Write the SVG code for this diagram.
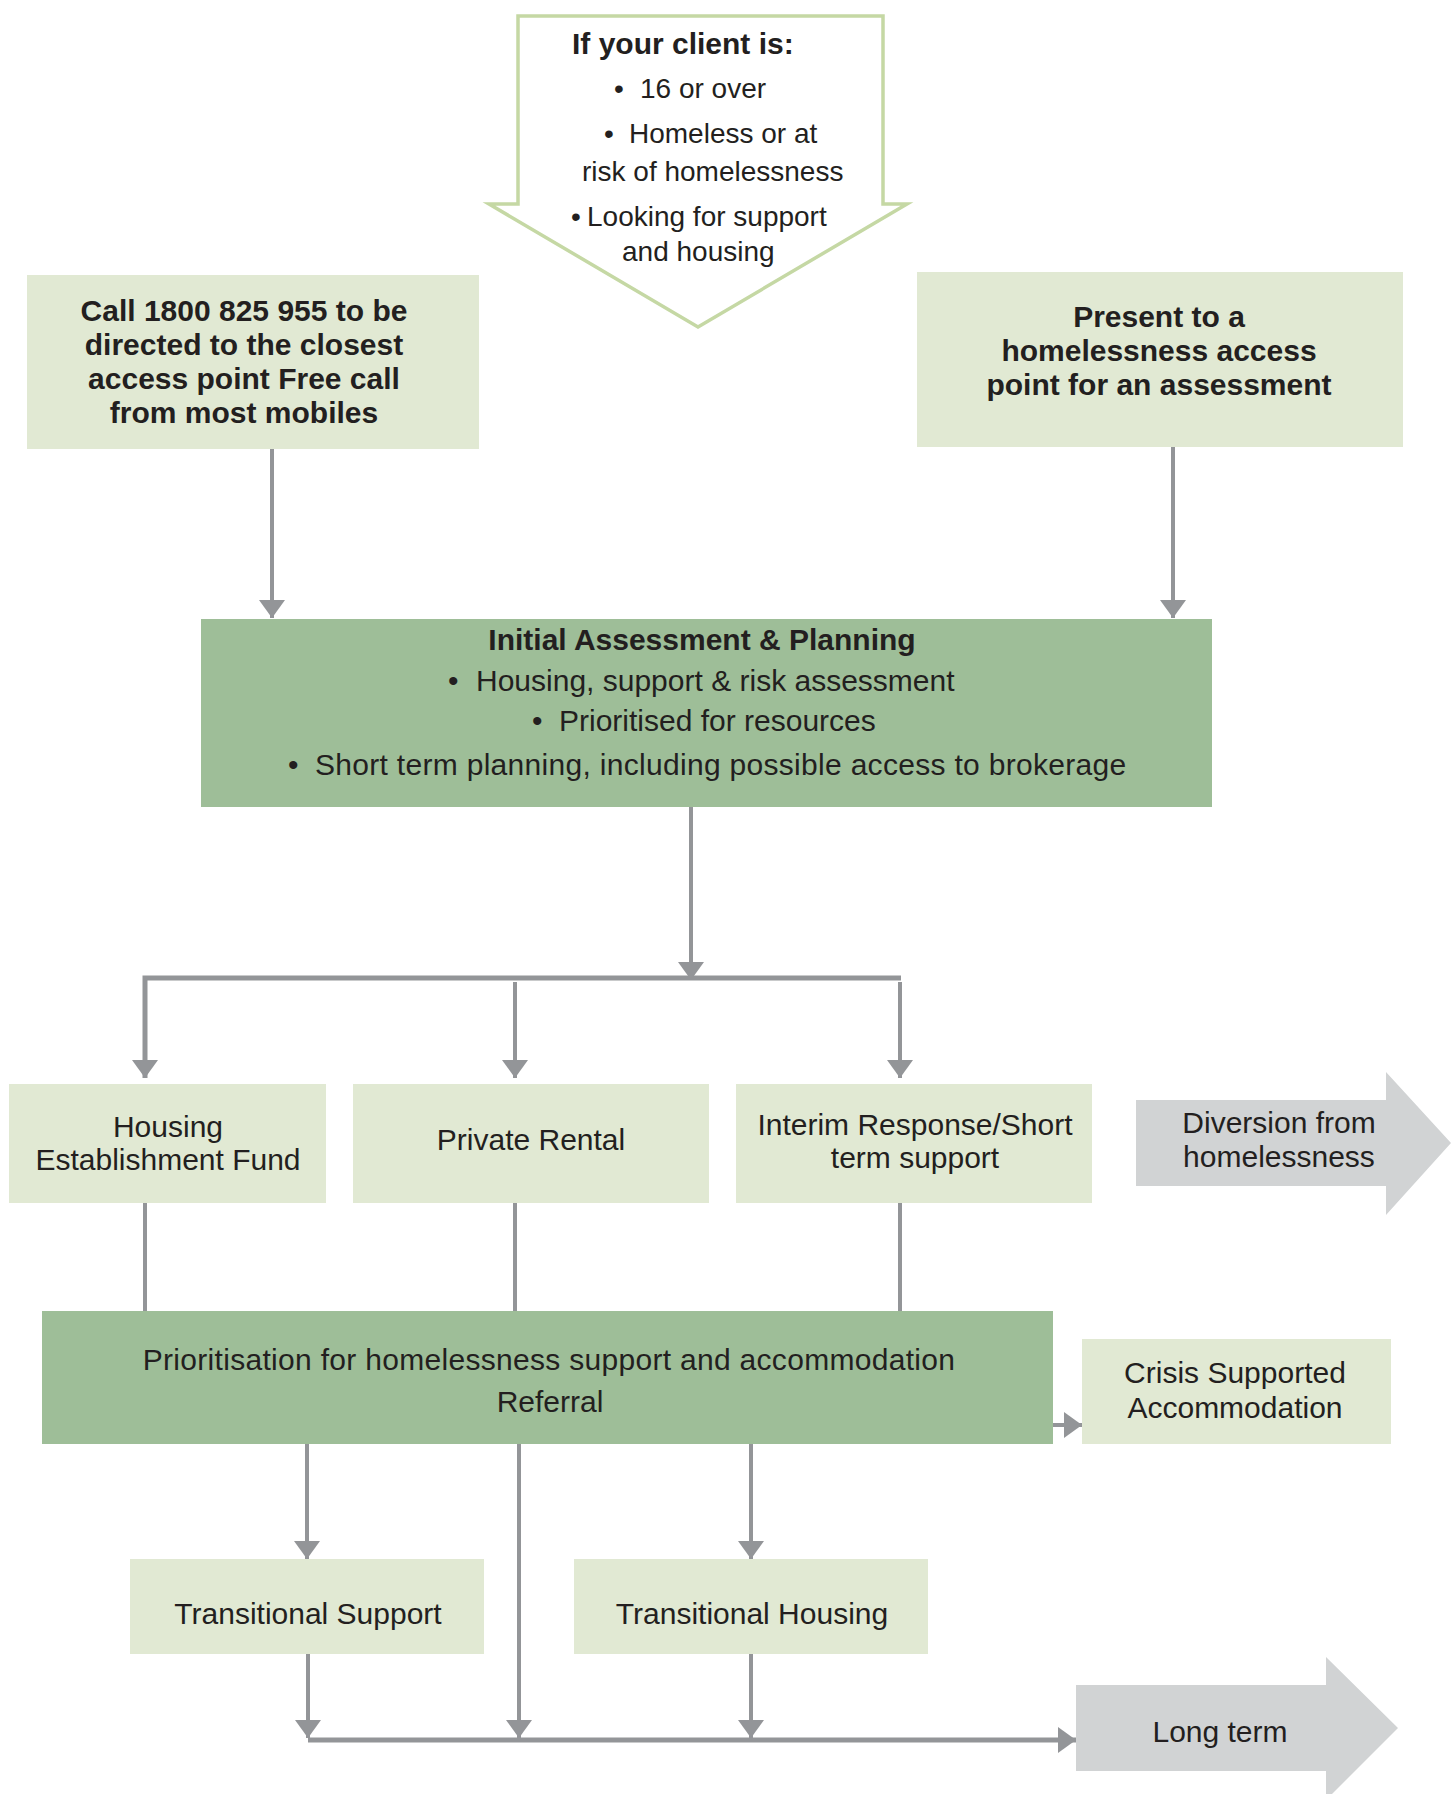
<svg xmlns="http://www.w3.org/2000/svg" width="1451" height="1794" viewBox="0 0 1451 1794">
<style>
text{font-family:"Liberation Sans",Arial,sans-serif;fill:#231f20;font-size:30px}
.c{text-anchor:middle}
.b{font-weight:bold}
.s27{font-size:28px}
.wide{letter-spacing:0.3px}
.light{fill:#e1e9d3}
.dark{fill:#9ebe98}
.grey{fill:#d1d3d4}
.ln{stroke:#939598;stroke-width:4;fill:none}
.thick{stroke-width:5}
</style>
<defs>
<marker id="ah" markerUnits="userSpaceOnUse" markerWidth="18" markerHeight="26" refX="18" refY="13" orient="auto" viewBox="0 0 18 26">
<path d="M0,0 L18,13 L0,26 z" fill="#939598"/>
</marker>
</defs>
<rect width="1451" height="1794" fill="#ffffff"/>

<g id="client">
<polygon points="518,16 883,16 883,204 907,204 698,327 489,204 518,204" fill="#ffffff" stroke="#c5d8a4" stroke-width="3.5" stroke-linejoin="miter"/>
<text class="b" x="572" y="54">If your client is:</text>
<text class="s27" x="614" y="98">•</text><text class="s27" x="640" y="98">16 or over</text>
<text class="s27" x="604" y="143">•</text><text class="s27" x="629" y="143">Homeless or at</text>
<text class="s27" x="582" y="181">risk of homelessness</text>
<text class="s27" x="571" y="226">•</text><text class="s27" x="587" y="226">Looking for support</text>
<text class="s27" x="622" y="261">and housing</text>
</g>

<g id="call">
<rect class="light" x="27" y="275" width="452" height="174"/>
<text class="b c" x="244" y="321">Call 1800 825 955 to be</text>
<text class="b c" x="244" y="355">directed to the closest</text>
<text class="b c" x="244" y="389">access point Free call</text>
<text class="b c" x="244" y="423">from most mobiles</text>
</g>

<g id="present">
<rect class="light" x="917" y="272" width="486" height="175"/>
<text class="b c" x="1159" y="327">Present to a</text>
<text class="b c" x="1159" y="361">homelessness access</text>
<text class="b c" x="1159" y="395">point for an assessment</text>
</g>

<g id="initial">
<rect class="dark" x="201" y="619" width="1011" height="188"/>
<text class="b c" x="702" y="650">Initial Assessment &amp; Planning</text>
<text x="448" y="691">•</text><text x="476" y="691">Housing, support &amp; risk assessment</text>
<text x="532" y="731">•</text><text x="559" y="731">Prioritised for resources</text>
<text x="288" y="775">•</text><text class="wide" x="315" y="775">Short term planning, including possible access to brokerage</text>
</g>

<g id="hef">
<rect class="light" x="9" y="1084" width="317" height="119"/>
<text class="c" x="168" y="1137">Housing</text>
<text class="c" x="168" y="1170">Establishment Fund</text>
</g>

<g id="private">
<rect class="light" x="353" y="1084" width="356" height="119"/>
<text class="c" x="531" y="1150">Private Rental</text>
</g>

<g id="interim">
<rect class="light" x="736" y="1084" width="356" height="119"/>
<text class="c" x="915" y="1135">Interim Response/Short</text>
<text class="c" x="915" y="1168">term support</text>
</g>

<g id="diversion">
<polygon class="grey" points="1136,1100 1386,1100 1386,1072 1451,1143 1386,1215 1386,1186 1136,1186"/>
<text class="c" x="1279" y="1133">Diversion from</text>
<text class="c" x="1279" y="1167">homelessness</text>
</g>

<g id="prioritisation">
<rect class="dark" x="42" y="1311" width="1011" height="133"/>
<text class="c wide" x="549" y="1370">Prioritisation for homelessness support and accommodation</text>
<text class="c" x="550" y="1412">Referral</text>
</g>

<g id="crisis">
<rect class="light" x="1082" y="1339" width="309" height="105"/>
<text class="c" x="1235" y="1383">Crisis Supported</text>
<text class="c" x="1235" y="1418">Accommodation</text>
</g>

<g id="tsupport">
<rect class="light" x="130" y="1559" width="354" height="95"/>
<text class="c" x="308" y="1624">Transitional Support</text>
</g>

<g id="thousing">
<rect class="light" x="574" y="1559" width="354" height="95"/>
<text class="c" x="752" y="1624">Transitional Housing</text>
</g>

<g id="longterm">
<polygon class="grey" points="1076,1685 1326,1685 1326,1657 1398,1728 1326,1800 1326,1771 1076,1771"/>
<text class="c" x="1220" y="1742">Long term</text>
</g>

<g id="connectors">
<line class="ln" x1="272" y1="449" x2="272" y2="618" marker-end="url(#ah)"/>
<line class="ln" x1="1173" y1="447" x2="1173" y2="618" marker-end="url(#ah)"/>
<line class="ln" x1="691" y1="807" x2="691" y2="980" marker-end="url(#ah)"/>
<polyline class="ln thick" points="145,1078 145,978 901,978"/>
<line class="ln" x1="145" y1="1000" x2="145" y2="1078" marker-end="url(#ah)"/>
<line class="ln" x1="515" y1="982" x2="515" y2="1078" marker-end="url(#ah)"/>
<line class="ln" x1="900" y1="982" x2="900" y2="1078" marker-end="url(#ah)"/>
<line class="ln" x1="145" y1="1203" x2="145" y2="1311"/>
<line class="ln" x1="515" y1="1203" x2="515" y2="1311"/>
<line class="ln" x1="900" y1="1203" x2="900" y2="1311"/>
<line class="ln" x1="1053" y1="1425" x2="1082" y2="1425" marker-end="url(#ah)"/>
<line class="ln" x1="307" y1="1444" x2="307" y2="1559" marker-end="url(#ah)"/>
<line class="ln" x1="519" y1="1444" x2="519" y2="1738" marker-end="url(#ah)"/>
<line class="ln" x1="751" y1="1444" x2="751" y2="1559" marker-end="url(#ah)"/>
<line class="ln" x1="308" y1="1654" x2="308" y2="1738" marker-end="url(#ah)"/>
<line class="ln" x1="751" y1="1654" x2="751" y2="1738" marker-end="url(#ah)"/>
<line class="ln thick" x1="308" y1="1740" x2="1076" y2="1740" marker-end="url(#ah)"/>
</g>
</svg>
